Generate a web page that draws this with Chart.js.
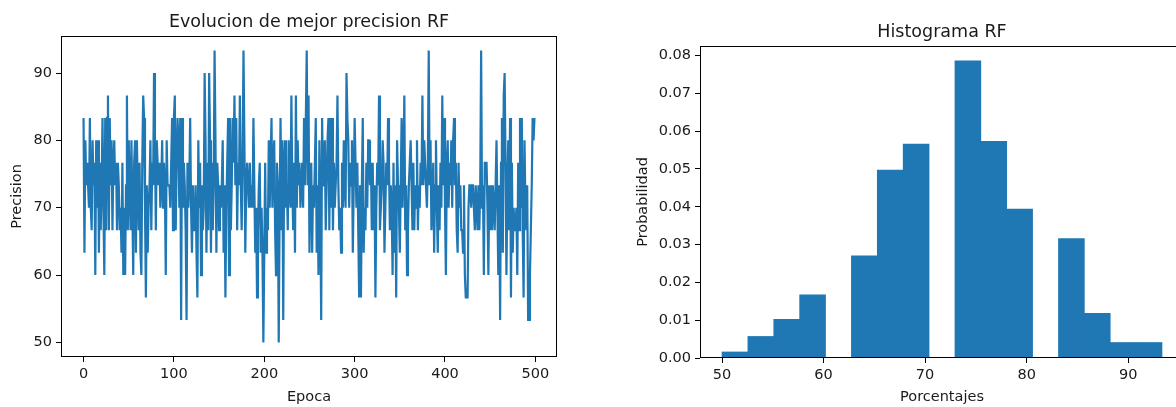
<!DOCTYPE html>
<html>
<head>
<meta charset="utf-8">
<script src="https://cdn.jsdelivr.net/npm/chart.js@4.4.1/dist/chart.umd.min.js"></script>
<style>
  html, body { margin: 0; padding: 0; background: #fff; overflow: hidden; }
  body { width: 1176px; height: 407px; position: relative; }
  canvas { position: absolute; top: 0; }
  #lineChart { left: 0; }
  #histChart { left: 590px; }
</style>
</head>
<body>
<canvas id="lineChart" width="590" height="407"></canvas>
<canvas id="histChart" width="600" height="407"></canvas>
<script>
// best precision per epoch
const precision = [
  83.33, 63.33, 80, 73.33, 76.67, 73.33, 70, 83.33, 70, 66.67,
  80, 73.33, 76.67, 60, 80, 70, 80, 63.33, 76.67, 66.67,
  73.33, 83.33, 70, 60, 83.33, 66.67, 83.33, 86.67, 66.67, 83.33,
  73.33, 80, 66.67, 76.67, 80, 73.33, 76.67, 66.67, 76.67, 73.33,
  66.67, 70, 63.33, 76.67, 60, 70, 60, 73.33, 86.67, 66.67,
  80, 73.33, 66.67, 80, 70, 60, 76.67, 80, 63.33, 80,
  73.33, 66.67, 76.67, 63.33, 60, 76.67, 86.67, 83.33, 70, 56.67,
  73.33, 63.33, 70, 73.33, 80, 66.67, 76.67, 73.33, 90, 80,
  66.67, 80, 76.67, 73.33, 76.67, 70, 73.33, 80, 70, 76.67,
  73.33, 60, 80, 73.33, 73.33, 73.33, 70, 76.67, 83.33, 66.67,
  83.33, 86.67, 66.67, 76.67, 83.33, 80, 70, 83.33, 53.33, 83.33,
  70, 76.67, 73.33, 66.67, 53.33, 76.67, 70, 73.33, 83.33, 70,
  63.33, 73.33, 66.67, 66.67, 73.33, 63.33, 56.67, 80, 70, 76.67,
  60, 73.33, 66.67, 70, 90, 80, 63.33, 76.67, 66.67, 90,
  80, 63.33, 76.67, 66.67, 73.33, 93.33, 80, 63.33, 76.67, 73.33,
  66.67, 73.33, 70, 73.33, 80, 63.33, 73.33, 56.67, 70, 76.67,
  83.33, 60, 83.33, 66.67, 73.33, 83.33, 76.67, 86.67, 73.33, 83.33,
  66.67, 76.67, 73.33, 86.67, 73.33, 66.67, 76.67, 93.33, 80, 63.33,
  73.33, 76.67, 73.33, 70, 76.67, 70, 73.33, 70, 83.33, 73.33,
  63.33, 70, 56.67, 66.67, 73.33, 76.67, 63.33, 70, 63.33, 50,
  63.33, 76.67, 63.33, 70, 66.67, 80, 70, 76.67, 83.33, 70,
  76.67, 80, 66.67, 60, 76.67, 73.33, 50, 70, 83.33, 66.67,
  80, 53.33, 76.67, 80, 70, 73.33, 66.67, 80, 73.33, 70,
  86.67, 73.33, 66.67, 76.67, 63.33, 86.67, 70, 80, 73.33, 76.67,
  70, 73.33, 76.67, 70, 83.33, 73.33, 83.33, 93.33, 73.33, 86.67,
  63.33, 73.33, 76.67, 63.33, 73.33, 70, 76.67, 83.33, 63.33, 73.33,
  60, 80, 70, 53.33, 83.33, 73.33, 76.67, 80, 66.67, 73.33,
  80, 83.33, 66.67, 83.33, 70, 83.33, 66.67, 76.67, 70, 73.33,
  76.67, 86.67, 73.33, 66.67, 70, 63.33, 76.67, 70, 80, 73.33,
  70, 90, 83.33, 80, 70, 76.67, 73.33, 80, 63.33, 73.33,
  83.33, 76.67, 70, 76.67, 66.67, 56.67, 73.33, 56.67, 73.33, 83.33,
  63.33, 70, 66.67, 76.67, 70, 80, 80, 73.33, 76.67, 66.67,
  76.67, 66.67, 73.33, 56.67, 70, 76.67, 73.33, 86.67, 66.67, 70,
  73.33, 80, 76.67, 63.33, 70, 76.67, 73.33, 83.33, 76.67, 66.67,
  73.33, 70, 60, 76.67, 63.33, 73.33, 56.67, 80, 73.33, 70,
  63.33, 73.33, 83.33, 70, 76.67, 86.67, 66.67, 73.33, 60, 66.67,
  73.33, 76.67, 80, 73.33, 66.67, 76.67, 66.67, 73.33, 70, 80,
  66.67, 73.33, 70, 76.67, 73.33, 86.67, 73.33, 80, 76.67, 73.33,
  70, 76.67, 93.33, 73.33, 80, 66.67, 70, 76.67, 63.33, 73.33,
  80, 70, 63.33, 73.33, 66.67, 76.67, 70, 86.67, 73.33, 83.33,
  70, 60, 76.67, 80, 70, 76.67, 73.33, 80, 70, 80,
  83.33, 73.33, 76.67, 66.67, 63.33, 76.67, 70, 73.33, 66.67, 66.67,
  63.33, 73.33, 60, 56.67, 56.67, 56.67, 70, 73.33, 73.33, 70,
  73.33, 73.33, 73.33, 66.67, 73.33, 70, 66.67, 73.33, 66.67, 73.33,
  93.33, 70, 73.33, 60, 76.67, 76.67, 76.67, 70, 60, 73.33,
  66.67, 73.33, 66.67, 73.33, 70, 66.67, 73.33, 80, 70, 60,
  73.33, 53.33, 76.67, 83.33, 63.33, 86.67, 90, 76.67, 60, 73.33,
  80, 66.67, 83.33, 56.67, 76.67, 63.33, 70, 66.67, 66.67, 70,
  60, 76.67, 66.67, 83.33, 70, 83.33, 66.67, 56.67, 80, 70,
  66.67, 73.33, 53.33, 53.33, 60, 66.67, 73.33, 83.33, 80, 83.33
];
const epochTicks = [0, 100, 200, 300, 400, 500];
const precisionTicks = [50, 60, 70, 80, 90];

// histogram: 17 bins between 50 and 93.33, density per bin
const histStart = 50;
const histEnd = 93.33;
const histDensity = [0.0016, 0.0057, 0.0102, 0.0167, 0, 0.0270, 0.0497, 0.0566, 0,
                     0.0786, 0.0573, 0.0394, 0, 0.0316, 0.0118, 0.0041, 0.0041];
const percentTicks = [50, 60, 70, 80, 90];
const probTicks = [0, 0.01, 0.02, 0.03, 0.04, 0.05, 0.06, 0.07, 0.08];

const BLUE = '#1f77b4';
const INK = '#1a1a1a';
const FONT = 'DejaVu Sans';

// draw the full axes box like matplotlib spines
const frame = {
  id: 'frame',
  afterDatasetsDraw(chart) {
    const a = chart.chartArea, ctx = chart.ctx;
    ctx.save();
    ctx.strokeStyle = '#000';
    ctx.lineWidth = 1;
    ctx.strokeRect(Math.round(a.left) + 0.5, Math.round(a.top) + 0.5,
      Math.round(a.right - a.left) - 1, Math.round(a.bottom - a.top) - 1);
    ctx.restore();
  }
};

function axis(ticks, min, max, title, titlePad, fmt) {
  return {
    type: 'linear', min: min, max: max, offset: false,
    afterBuildTicks: s => { s.ticks = ticks.map(v => ({ value: v })); },
    grid: { offset: false, drawOnChartArea: false, drawTicks: true, tickLength: 5, color: '#000', tickColor: '#000' },
    border: { display: false },
    ticks: { padding: 4, maxRotation: 0, color: INK, font: { family: FONT, size: 14.5 }, callback: fmt || (v => v) },
    title: { display: true, text: title, color: INK, font: { family: FONT, size: 14.5 }, padding: titlePad }
  };
}

// left: evolution line
const yMin = Math.min(...precision), yMax = Math.max(...precision);
const yPad = (yMax - yMin) * 0.05;
const n = precision.length - 1;
const lineX = axis(epochTicks, -n * 0.05, n * 1.05, 'Epoca', { top: 0, bottom: 1 });
lineX.afterFit = s => { s.height = 50; };
const lineY = axis(precisionTicks, yMin - yPad, yMax + yPad, 'Precision', { top: 9, bottom: 0 });
lineY.afterFit = s => { s.width = 61; };

new Chart(document.getElementById('lineChart'), {
  type: 'line',
  data: {
    datasets: [{
      data: precision.map((v, i) => ({ x: i, y: v })),
      borderColor: BLUE,
      borderWidth: 2.2,
      pointRadius: 0,
      tension: 0,
      fill: false
    }]
  },
  options: {
    responsive: false, animation: false, devicePixelRatio: 1,
    layout: { padding: { left: 0, right: 33, top: 0, bottom: 0 } },
    plugins: {
      legend: { display: false }, tooltip: { enabled: false },
      title: { display: true, text: 'Evolucion de mejor precision RF', fullSize: false, color: INK,
               font: { family: FONT, size: 17.5, weight: 'normal' }, padding: { top: 11.5, bottom: 3.5 } }
    },
    scales: { x: lineX, y: lineY }
  },
  plugins: [frame]
});

// right: histogram
const binW = (histEnd - histStart) / histDensity.length;
const hMax = Math.max(...histDensity);
const histX = axis(percentTicks, histStart - (histEnd - histStart) * 0.05, histEnd + (histEnd - histStart) * 0.05,
  'Porcentajes', { top: 0, bottom: 1 });
histX.afterFit = s => { s.height = 49; };
const histY = axis(probTicks, 0, hMax * 1.05, 'Probabilidad', { top: 5, bottom: 0 }, v => v.toFixed(2));
histY.afterFit = s => { s.width = 70; };

new Chart(document.getElementById('histChart'), {
  type: 'bar',
  data: {
    datasets: [{
      data: histDensity.map((d, k) => ({ x: histStart + (k + 0.5) * binW, y: d })),
      backgroundColor: BLUE,
      borderWidth: 0,
      barPercentage: 1,
      categoryPercentage: 1
    }]
  },
  options: {
    responsive: false, animation: false, devicePixelRatio: 1,
    layout: { padding: { left: 40, right: 6, top: 0, bottom: 0 } },
    plugins: {
      legend: { display: false }, tooltip: { enabled: false },
      title: { display: true, text: 'Histograma RF', fullSize: false, color: INK,
               font: { family: FONT, size: 17.5, weight: 'normal' }, padding: { top: 21.5, bottom: 3.5 } }
    },
    scales: { x: histX, y: histY }
  },
  plugins: [frame]
});
</script>
</body>
</html>
